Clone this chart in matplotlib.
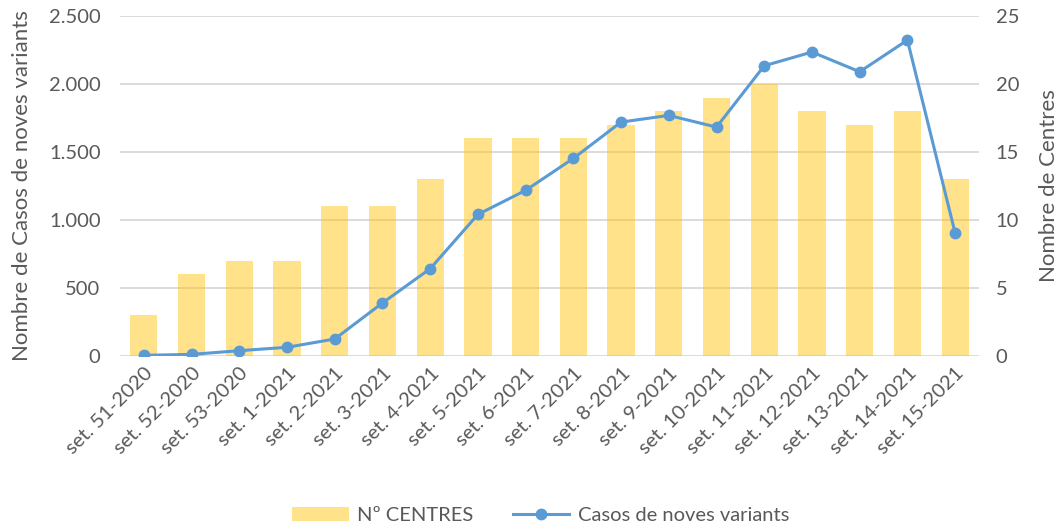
import matplotlib
matplotlib.use("Agg")
import matplotlib.pyplot as plt
from matplotlib.ticker import FuncFormatter

plt.rcParams['font.family'] = ['Lato', 'DejaVu Sans']

weeks = ["set. 51-2020", "set. 52-2020", "set. 53-2020", "set. 1-2021", "set. 2-2021",
         "set. 3-2021", "set. 4-2021", "set. 5-2021", "set. 6-2021", "set. 7-2021",
         "set. 8-2021", "set. 9-2021", "set. 10-2021", "set. 11-2021", "set. 12-2021",
         "set. 13-2021", "set. 14-2021", "set. 15-2021"]
centres = [3, 6, 7, 7, 11, 11, 13, 16, 16, 16, 17, 18, 19, 20, 18, 17, 18, 13]
casos = [5, 12, 39, 64, 125, 390, 642, 1041, 1218, 1453, 1720, 1769, 1683, 2134, 2235, 2090, 2323, 904]

fig = plt.figure(figsize=(10.64, 5.29), dpi=100)
ax = fig.add_axes([120/1064, 1-356/529, (979-120)/1064, 340/529])
ax2 = ax.twinx()

x = list(range(len(weeks)))
txt = '#595959'
grid = '#D9D9D9'

# bars on right axis
bars = ax2.bar(x, centres, width=0.57, color='#FFC000', alpha=0.46, zorder=2, label='Nº CENTRES')
ax2.set_ylim(0, 25)
ax2.set_yticks([0, 5, 10, 15, 20, 25])
for v in [0, 5, 10, 15, 20, 25]:
    ax2.axhline(v, color=grid, lw=1.3, zorder=1)

# line on left axis
line, = ax.plot(x, casos, color='#5B9BD5', lw=2.2, marker='o', ms=7.5, zorder=5,
                label='Casos de noves variants')
ax.set_ylim(0, 2500)
ax.set_yticks([0, 500, 1000, 1500, 2000, 2500])
ax.yaxis.set_major_formatter(FuncFormatter(lambda v, p: f"{int(v):,}".replace(',', '.')))
ax.set_xlim(-0.5, len(weeks) - 0.5)
ax.set_xticks(x)
ax.set_xticklabels(weeks, rotation=45, ha='right', rotation_mode='anchor')

ax.set_zorder(ax2.get_zorder() + 1)
ax.patch.set_visible(False)

for a in (ax, ax2):
    for s in a.spines.values():
        s.set_visible(False)
    a.tick_params(length=0, colors=txt, labelsize=14.5)

ax.tick_params(axis='y', pad=14)
ax2.tick_params(axis='y', pad=12)
ax.tick_params(axis='x', pad=6)

ax.set_ylabel('Nombre de Casos de noves variants', color=txt, fontsize=16, labelpad=12)
ax2.set_ylabel('Nombre de Centres', color=txt, fontsize=16, labelpad=14)

fig.legend([bars, line], ['Nº CENTRES', 'Casos de noves variants'], loc='lower center',
           bbox_to_anchor=(0.508, -0.025), ncol=2, frameon=False, fontsize=14.5,
           labelcolor=txt, handlelength=2.8, handletextpad=0.4, columnspacing=2.0)

fig.savefig('out.png', dpi=100)
